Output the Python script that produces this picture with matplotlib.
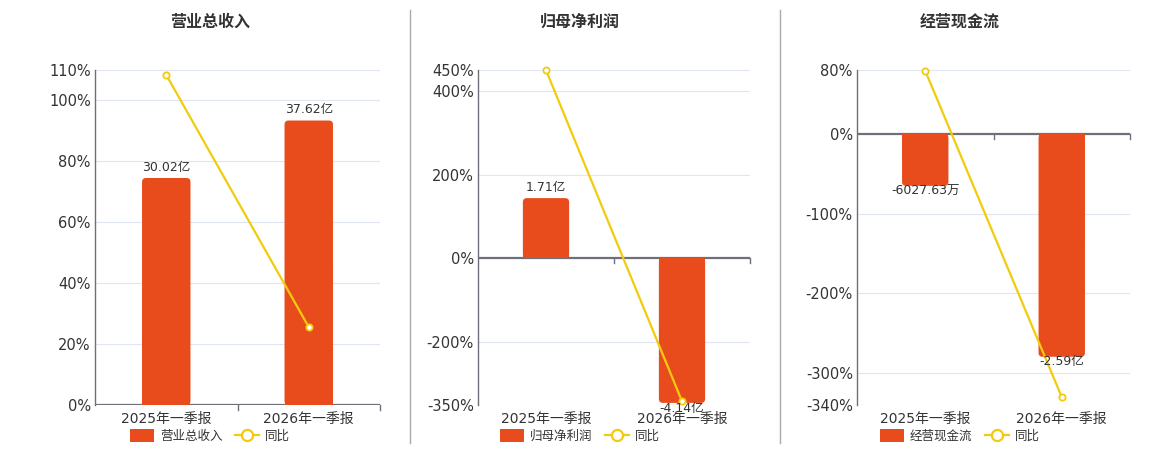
import matplotlib
matplotlib.use("Agg")
import matplotlib.pyplot as plt
from matplotlib.patches import FancyBboxPatch, Patch
from matplotlib.lines import Line2D

plt.rcParams['font.family'] = ['DejaVu Sans', 'Noto Sans CJK SC']

# data
categories = ["2025年一季报", "2026年一季报"]

titles = ["营业总收入", "归母净利润", "经营现金流"]

revenue = [30.02, 37.62]            # 亿
revenue_yoy = [108.4, 25.6]         # %
revenue_labels = ["30.02亿", "37.62亿"]

net_profit = [1.71, -4.14]          # 亿
net_profit_yoy = [449.5, -341.0]
net_profit_labels = ["1.71亿", "-4.14亿"]

cash_flow = [-0.602763, -2.59]      # 亿
cash_flow_yoy = [79.0, -330.0]
cash_flow_labels = ["-6027.63万", "-2.59亿"]

BAR = "#E84C1C"
LINE = "#F2CC0C"
AXIS = "#6E7079"
GRID = "#E0E6F1"
TEXT = "#333333"

W, H = 1160, 450
fig = plt.figure(figsize=(W / 100, H / 100), dpi=100)

panels = [
    dict(left=95, right=380, bars=revenue, yoy=revenue_yoy, labels=revenue_labels,
         ylim=(0, 110), yticks=[0, 20, 40, 60, 80, 100, 110], blim=(0, 44.3), cx=210),
    dict(left=478, right=750, bars=net_profit, yoy=net_profit_yoy, labels=net_profit_labels,
         ylim=(-350, 450), yticks=[-350, -200, 0, 200, 400, 450], blim=(-4.2, 5.37), cx=580),
    dict(left=857, right=1130, bars=cash_flow, yoy=cash_flow_yoy, labels=cash_flow_labels,
         ylim=(-340, 80), yticks=[-340, -300, -200, -100, 0, 80], blim=(-3.151, 0.744), cx=960),
]

top_px, bot_px = 70, 405
x = [0, 1]

for i, p in enumerate(panels):
    ax = fig.add_axes([p["left"] / W, 1 - bot_px / H,
                       (p["right"] - p["left"]) / W, (bot_px - top_px) / H])
    ax.set_xlim(-0.5, 1.5)
    ax.set_ylim(*p["ylim"])
    ax.set_yticks(p["yticks"])
    ax.set_yticklabels([f"{t}%" for t in p["yticks"]])
    ax.set_xticks(x)
    ax.set_xticklabels(categories)
    ax.tick_params(axis='x', length=0, pad=5, labelsize=10, labelcolor=TEXT)
    ax.tick_params(axis='y', length=0, pad=3, labelsize=10.5, labelcolor=TEXT)
    for s in ["top", "right", "bottom"]:
        ax.spines[s].set_visible(False)
    ax.spines["left"].set_color(AXIS)
    ax.spines["left"].set_linewidth(1)
    for t in p["yticks"]:
        if t != 0:
            ax.axhline(t, color=GRID, lw=0.8, zorder=0)
    # zero axis line with category boundary ticks
    ax.axhline(0, color=AXIS, lw=1.6, zorder=1)
    lo, hi = p["ylim"]
    d = (hi - lo) / (bot_px - top_px) * 5
    for xb in [0.5, 1.5]:
        ax.plot([xb, xb], [0, -d], color=AXIS, lw=1, clip_on=False, zorder=1)

    ax2 = ax.twinx()
    ax2.set_ylim(*p["blim"])
    ax2.axis("off")
    bars = ax2.bar(x, p["bars"], width=0.34, color=BAR, zorder=2)
    # rounded far end of each bar
    bw_px = (p["right"] - p["left"]) / 2.0
    bh_px = (bot_px - top_px) / (p["blim"][1] - p["blim"][0])
    r = 4 / bw_px
    for b in bars:
        bx, by, w, h = b.get_x(), b.get_y(), b.get_width(), b.get_height()
        rp = FancyBboxPatch((bx, min(by, by + h)), w, abs(h),
                            boxstyle=f"round,pad=0,rounding_size={r}",
                            mutation_aspect=bw_px / bh_px,
                            facecolor=BAR, edgecolor="none", zorder=2)
        ax2.add_patch(rp)
        b.set_height(h / 2)
    for xi, v, lab in zip(x, p["bars"], p["labels"]):
        if v >= 0:
            ax2.annotate(lab, (xi, v), xytext=(0, 3), textcoords="offset points",
                         ha="center", va="bottom", fontsize=9, color=TEXT, zorder=4)
        else:
            ax2.annotate(lab, (xi, v), xytext=(0, 1), textcoords="offset points",
                         ha="center", va="top", fontsize=9, color=TEXT, zorder=4)
    ax2.plot(x, p["yoy"], color=LINE, lw=1.6, marker="o", ms=4.5, mfc="white",
             mec=LINE, mew=1.3, transform=ax.transData, zorder=3, clip_on=False)

    fig.text(p["cx"] / W, 1 - 22 / H, titles[i], ha="center", va="center",
             fontsize=11.5, fontweight="bold", color=TEXT)
    handles = [Patch(facecolor=BAR, edgecolor="none"),
               Line2D([], [], color=LINE, lw=1.6, marker="o", ms=8, mfc="white",
                      mec=LINE, mew=1.6)]
    fig.legend(handles, [titles[i], "同比"], loc="center",
               bbox_to_anchor=(p["cx"] / W, 1 - 436 / H), ncol=2, frameon=False,
               fontsize=9, handlelength=1.9, handleheight=1.2, columnspacing=1.0,
               handletextpad=0.5, labelcolor=TEXT)

for xs in [410, 780]:
    fig.add_artist(Line2D([xs / W, xs / W], [1 - 443 / H, 1 - 10 / H],
                          color="#AAAAAA", lw=1))

fig.savefig("out.png", dpi=100)
